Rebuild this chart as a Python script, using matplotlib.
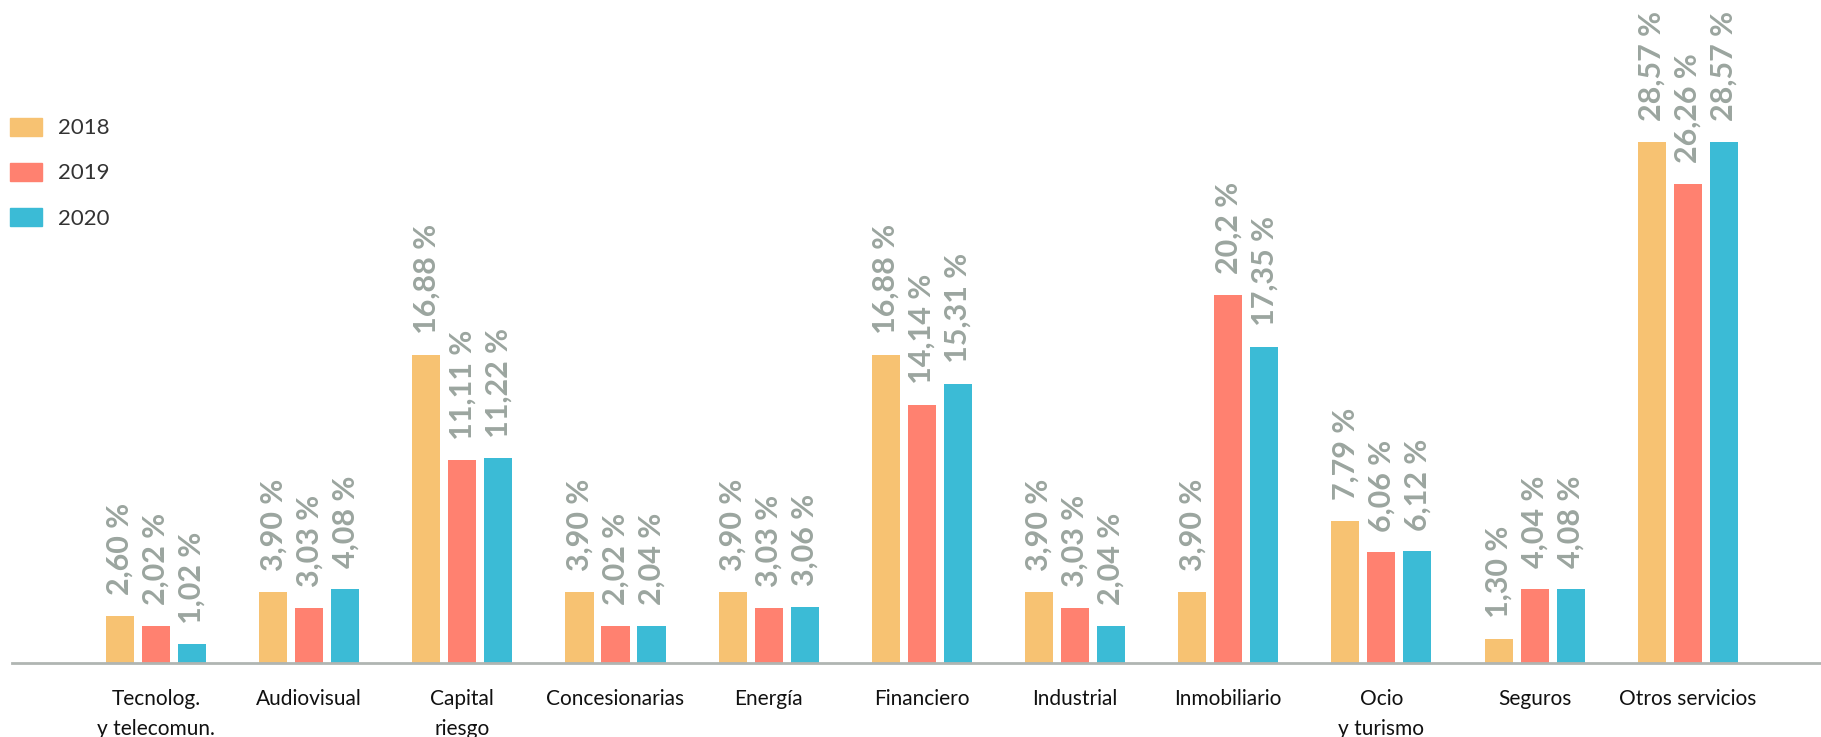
import numpy as np
import matplotlib.pyplot as plt
from matplotlib.patches import Patch

plt.rcParams['font.family'] = ['Lato', 'DejaVu Sans']

sectores = ['Tecnolog.\ny telecomun.', 'Audiovisual', 'Capital\nriesgo', 'Concesionarias',
            'Energía', 'Financiero', 'Industrial', 'Inmobiliario', 'Ocio\ny turismo',
            'Seguros', 'Otros servicios']
anios = ['2018', '2019', '2020']
v2018 = ['2,60', '3,90', '16,88', '3,90', '3,90', '16,88', '3,90', '3,90', '7,79', '1,30', '28,57']
v2019 = ['2,02', '3,03', '11,11', '2,02', '3,03', '14,14', '3,03', '20,2', '6,06', '4,04', '26,26']
v2020 = ['1,02', '4,08', '11,22', '2,04', '3,06', '15,31', '2,04', '17,35', '6,12', '4,08', '28,57']
colores = ['#f7c272', '#ff8170', '#3bbbd6']

W, H = 1821, 737
fig = plt.figure(figsize=(W / 100, H / 100), dpi=100)
ax = fig.add_axes([12 / W, 74 / H, 1 - 12 / W, 663 / H])

x = np.arange(len(sectores))
ancho = 0.183
paso = 0.235
for i, (serie, col) in enumerate(zip([v2018, v2019, v2020], colores)):
    vals = [float(s.replace(',', '.')) for s in serie]
    pos = x + (i - 1) * paso
    ax.bar(pos, vals, width=ancho, color=col, zorder=2)
    for p, v, s in zip(pos, vals, serie):
        ax.annotate(s + ' %', (p, v), xytext=(0, 15), textcoords='offset points',
                    rotation=90, ha='center', va='bottom', fontsize=22,
                    fontweight='bold', color='#9ba59f')

ax.set_xlim(-0.94, 10.87)
ax.set_ylim(0, 36.35)
ax.set_xticks(x)
ax.set_xticklabels(sectores, fontsize=15, color='#111111', linespacing=1.6, va='top')
ax.tick_params(axis='x', length=0, pad=19)
ax.set_yticks([])
for lado in ['top', 'right', 'left']:
    ax.spines[lado].set_visible(False)
ax.spines['bottom'].set_color('#b0b5b2')
ax.spines['bottom'].set_linewidth(2)

handles = [Patch(color=c, label=a) for c, a in zip(colores, anios)]
fig.legend(handles=handles, loc='upper left', bbox_to_anchor=(-8 / W, 1 - 100 / H),
           frameon=False, fontsize=16, labelcolor='#333333',
           handlelength=1.44, handleheight=0.86, handletextpad=0.75, labelspacing=1.1,
           borderpad=0.3)

fig.savefig('out.png', dpi=100)
